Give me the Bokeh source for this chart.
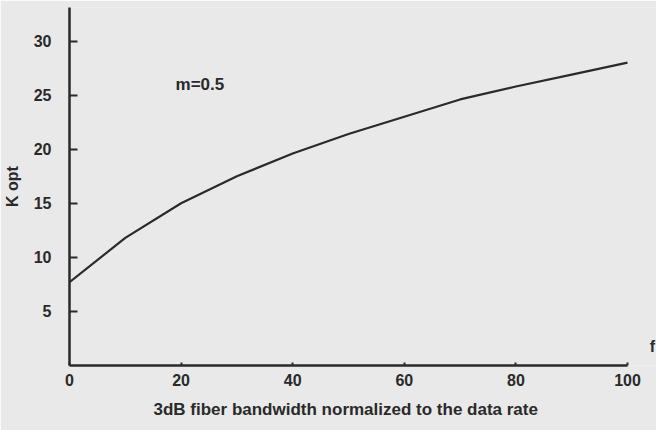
from bokeh.plotting import figure
from bokeh.models import Range1d, FixedTicker, Title
from bokeh.core.properties import value
from bokeh.embed import file_html
from bokeh.resources import INLINE

# Data
bandwidth = [0, 10, 20, 30, 40, 50, 60, 70, 80, 90, 100]
k_opt = [7.7, 11.8, 15.0, 17.5, 19.6, 21.4, 23.0, 24.6, 25.8, 26.9, 28.0]
x_ticks = [0, 20, 40, 60, 80, 100]
y_ticks = [5, 10, 15, 20, 25, 30]
annotation = "m=0.5"
x_title = "3dB fiber bandwidth normalized to the data rate"
y_title = "K opt"
edge_text = "f"

FONT = "Liberation Sans"
BG = "#e9e9e9"
INK = "#2a2a2a"

p = figure(width=656, height=430, output_backend="svg", toolbar_location=None,
           x_range=Range1d(0, 105.2), y_range=Range1d(0, 33.1),
           min_border_left=68, min_border_right=0, min_border_top=7, min_border_bottom=65)
p.background_fill_color = BG
p.border_fill_color = BG
p.outline_line_color = None
p.grid.visible = False

p.line(bandwidth, k_opt, line_color=INK, line_width=2.2)

for ax in (p.xaxis[0], p.yaxis[0]):
    ax.axis_line_color = INK
    ax.axis_line_width = 2.5
    ax.major_tick_line_color = INK
    ax.major_tick_line_width = 2
    ax.major_tick_out = 0
    ax.minor_tick_line_color = None
    ax.major_label_text_font = FONT
    ax.major_label_text_font_style = "bold"
    ax.major_label_text_font_size = "16px"
    ax.major_label_text_color = INK
    ax.axis_label_text_font = FONT
    ax.axis_label_text_font_style = "bold"
    ax.axis_label_text_color = INK

p.xaxis.bounds = (0, 100)
p.xaxis.ticker = FixedTicker(ticks=x_ticks)
p.yaxis.ticker = FixedTicker(ticks=y_ticks)
p.xaxis.major_tick_in = 3
p.yaxis.major_tick_in = 8
p.xaxis.major_label_standoff = 8
p.yaxis.major_label_standoff = 18
p.yaxis.axis_label = y_title
p.yaxis.axis_label_text_font_size = "16px"
p.yaxis.axis_label_standoff = 10

xt = Title(text=x_title, align="left", offset=84, standoff=18,
           text_font=FONT, text_font_style="bold", text_font_size="17px",
           text_color=INK)
p.add_layout(xt, "below")

p.text(x=[19.0], y=[26.0], text=[annotation], text_font=value(FONT),
       text_font_style="bold", text_font_size="17px",
       text_color=INK, text_baseline="middle", text_align="left")
p.text(x=[104.0], y=[1.8], text=[edge_text], text_font=value(FONT),
       text_font_style="bold", text_font_size="16px",
       text_color=INK, text_baseline="middle", text_align="left")

open("out.html", "w").write(file_html(p, INLINE))
